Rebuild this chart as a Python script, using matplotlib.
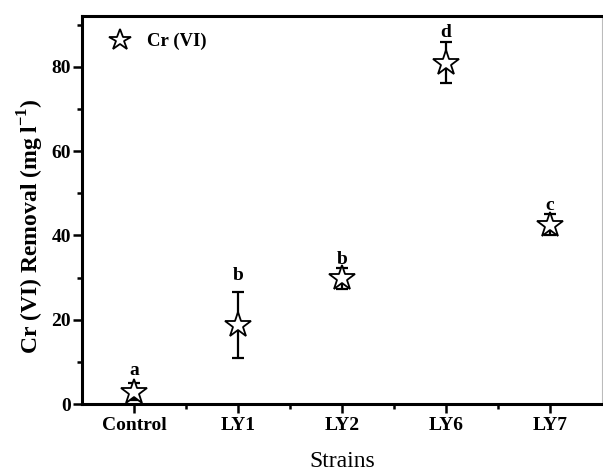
import numpy as np
import matplotlib.pyplot as plt
from matplotlib.ticker import MultipleLocator, FixedLocator

plt.rcParams['font.family'] = ['Liberation Serif', 'DejaVu Serif']
plt.rcParams['mathtext.fontset'] = 'custom'
plt.rcParams['mathtext.rm'] = 'Liberation Serif:bold'
plt.rcParams['mathtext.bf'] = 'Liberation Serif:bold'

strains = ['Control', 'LY1', 'LY2', 'LY6', 'LY7']
removal = [2.9, 18.8, 29.9, 81.0, 42.5]      # [mg/l]
err = [2.0, 7.9, 2.5, 4.9, 2.5]
letters = ['a', 'b', 'b', 'd', 'c']
letter_y = [8.0, 30.6, 34.2, 88.2, 47.0]

x = np.arange(1, len(strains) + 1)

fig = plt.figure(figsize=(6.03, 4.76), dpi=100)
ax = fig.add_axes([0.136, 0.151, 0.862, 0.815])

ax.errorbar(x, removal, yerr=err, fmt='none', ecolor='black',
            elinewidth=1.6, capsize=4, capthick=1.6, clip_on=False, zorder=2)
ax.plot(x, removal, ls='none', marker='*', ms=19, mfc='white', mec='black',
        mew=1.3, clip_on=False, zorder=3, label='Cr (VI)')

for xi, yi, t in zip(x, letter_y, letters):
    ax.text(xi, yi, t, ha='center', va='center', fontsize=14, fontweight='bold')

ax.set_xlim(0.5, 5.5)
ax.set_ylim(0, 92)
ax.set_xticks(x)
ax.set_xticklabels(strains)
ax.xaxis.set_minor_locator(FixedLocator([1.5, 2.5, 3.5, 4.5]))
ax.yaxis.set_major_locator(MultipleLocator(20))
ax.yaxis.set_minor_locator(MultipleLocator(10))

ax.tick_params(which='major', direction='out', length=6.5, width=1.8,
               labelsize=14, pad=3)
ax.tick_params(which='minor', direction='out', length=3.5, width=1.8)
ax.tick_params(axis='y', pad=1.5)
for lab in ax.get_xticklabels() + ax.get_yticklabels():
    lab.set_fontweight('bold')

for side in ['left', 'bottom', 'top']:
    ax.spines[side].set_linewidth(2.2)
ax.spines['right'].set_linewidth(0.8)
ax.spines['right'].set_color('#bbbbbb')

ax.set_ylabel(r'Cr (VI) Removal (mg l$^{\mathbf{-1}}$)', fontsize=17,
              fontweight='bold', va='center')
ax.yaxis.set_label_coords(-0.098, 0.46)
ax.set_xlabel('Strains', fontsize=17, va='center')
ax.xaxis.set_label_coords(0.5, -0.148)

ax.legend(loc='upper left', bbox_to_anchor=(0.014, 1.0), frameon=False,
          numpoints=1, prop={'size': 13.5, 'weight': 'bold'}, markerscale=0.85,
          handlelength=1.5, handletextpad=0.7, borderaxespad=0.5,
          borderpad=0.4)

plt.savefig('out.png', dpi=100)
